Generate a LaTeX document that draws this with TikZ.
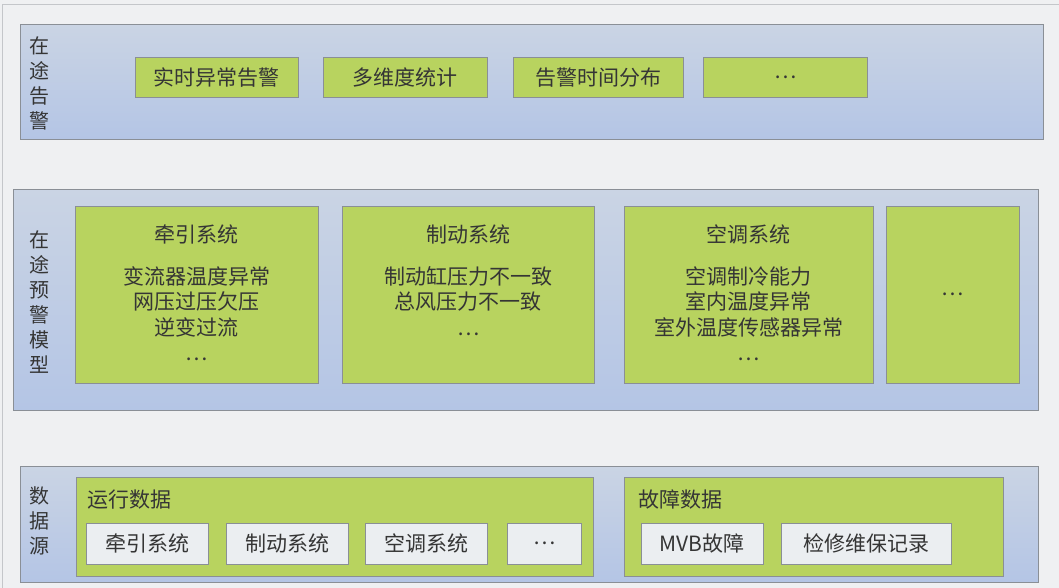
\documentclass[tikz,border=0pt]{standalone}
\usepackage{fontspec}
\setmainfont{Noto Sans CJK SC}
\usepackage{tikz}
\usetikzlibrary{positioning}
\definecolor{archbg}{HTML}{EFF0F2}
\definecolor{archframe}{HTML}{C4C6CA}
\definecolor{archbluetop}{HTML}{CAD4E4}
\definecolor{archbluebot}{HTML}{B4C5E5}
\definecolor{archgreen}{HTML}{B8D35F}
\definecolor{archleaf}{HTML}{EBEEF1}
\definecolor{archline}{HTML}{8A8F96}
\definecolor{archtext}{HTML}{353535}

\tikzset{
  layer/.style={draw=archline, top color=archbluetop, bottom color=archbluebot, anchor=north west, inner sep=0pt},
  card/.style={draw=archline, fill=archgreen, anchor=north west, inner sep=0pt, text=archtext,
    font=\fontsize{21}{25.5}\selectfont, align=center},
  leaf/.style={draw=archline, fill=archleaf, anchor=north west, inner sep=0pt, text=archtext,
    font=\fontsize{21}{24}\selectfont},
  sidelabel/.style={text=archtext, font=\fontsize{20}{25}\selectfont, align=center, inner sep=0pt},
  cardtext/.style={text=archtext, font=\fontsize{21}{25.5}\selectfont, align=center, inner sep=0pt}
}

\begin{document}
\begin{tikzpicture}[x=1pt, y=-1pt]
    \useasboundingbox (0,0) rectangle (1059,588);
    \fill[archbg] (0,0) rectangle (1059,588);
    \draw[archframe] (2.5,588) -- (2.5,4.5) -- (1059,4.5);

    % top layer
    \node[layer, minimum width=1023pt, minimum height=115pt] (alarm) at (20,24) {};
    \node[sidelabel] (alarmlbl) at (39,83) {在\\途\\告\\警};
    \node[card, minimum width=163pt, minimum height=40pt] (realtime) at (135,57) {实时异常告警};
    \node[card, minimum width=164pt, minimum height=40pt] (multidim) at (323,57) {多维度统计};
    \node[card, minimum width=170pt, minimum height=40pt] (timedist) at (513,57) {告警时间分布};
    \node[card, minimum width=164pt, minimum height=40pt] (alarmmore) at (703,57) {\ldots};

    % middle layer
    \node[layer, minimum width=1025pt, minimum height=221pt] (model) at (13,189) {};
    \node[sidelabel] (modellbl) at (39,302) {在\\途\\预\\警\\模\\型};
    \node[card, minimum width=243pt, minimum height=177pt] (traction) at (75,206) {};
    \node[card, minimum width=252pt, minimum height=177pt] (brake) at (342,206) {};
    \node[card, minimum width=249pt, minimum height=177pt] (aircon) at (624,206) {};
    \node[card, minimum width=133pt, minimum height=177pt] (modelmore) at (886,206) {\ldots};
    \node[cardtext, below=19pt of traction.north] {牵引系统\\[16pt]变流器温度异常\\网压过压欠压\\逆变过流\\\ldots};
    \node[cardtext, below=19pt of brake.north] {制动系统\\[16pt]制动缸压力不一致\\总风压力不一致\\\ldots};
    \node[cardtext, below=19pt of aircon.north] {空调系统\\[16pt]空调制冷能力\\室内温度异常\\室外温度传感器异常\\\ldots};

    % bottom layer
    \node[layer, minimum width=1018pt, minimum height=116pt] (source) at (20,466) {};
    \node[sidelabel] (sourcelbl) at (39,521) {数\\据\\源};
    \node[card, minimum width=517pt, minimum height=99pt] (rundata) at (76,477) {};
    \node[card, minimum width=379pt, minimum height=99pt] (faultdata) at (624,477) {};
    \node[cardtext, anchor=west] (runlbl) at (87,500) {运行数据};
    \node[cardtext, anchor=west] (faultlbl) at (638,500) {故障数据};
    \node[leaf, minimum width=122pt, minimum height=41pt] (srctraction) at (86,523) {牵引系统};
    \node[leaf, minimum width=122pt, minimum height=41pt] (srcbrake) at (226,523) {制动系统};
    \node[leaf, minimum width=122pt, minimum height=41pt] (srcaircon) at (365,523) {空调系统};
    \node[leaf, minimum width=74pt, minimum height=41pt] (srcmore) at (507,523) {\ldots};
    \node[leaf, minimum width=122pt, minimum height=41pt] (mvb) at (641,523) {MVB故障};
    \node[leaf, minimum width=170pt, minimum height=41pt] (repair) at (781,523) {检修维保记录};
\end{tikzpicture}
\end{document}
